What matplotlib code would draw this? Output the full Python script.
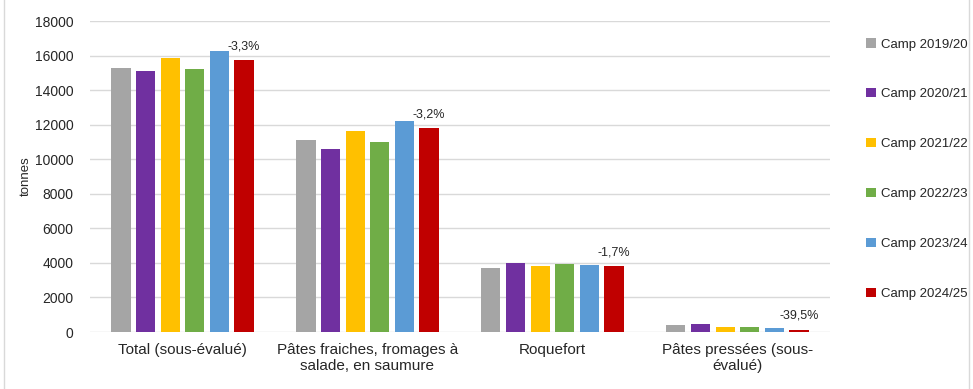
import matplotlib
matplotlib.use("Agg")
import matplotlib.pyplot as plt
from matplotlib.patches import Rectangle
import numpy as np

plt.rcParams["font.family"] = ["Liberation Sans", "DejaVu Sans"]

categories = [
    "Total (sous-évalué)",
    "Pâtes fraiches, fromages à\nsalade, en saumure",
    "Roquefort",
    "Pâtes pressées (sous-\névalué)",
]
campaigns = ["Camp 2019/20", "Camp 2020/21", "Camp 2021/22",
             "Camp 2022/23", "Camp 2023/24", "Camp 2024/25"]
colors = ["#A5A5A5", "#7030A0", "#FFC000", "#70AD47", "#5B9BD5", "#C00000"]

camp_2019 = [15280, 11110, 3700, 390]
camp_2020 = [15100, 10590, 3990, 460]
camp_2021 = [15860, 11630, 3820, 310]
camp_2022 = [15220, 11000, 3930, 270]
camp_2023 = [16260, 12210, 3880, 215]
camp_2024 = [15740, 11800, 3810, 130]
series = [camp_2019, camp_2020, camp_2021, camp_2022, camp_2023, camp_2024]

change_labels = ["-3,3%", "-3,2%", "-1,7%", "-39,5%"]

fig = plt.figure(figsize=(9.73, 3.89), dpi=100)
ax = fig.add_axes([0.0925, 0.1465, 0.7605, 0.7995])

x = np.arange(len(categories))
step = 0.133
width = 0.103
for i, (vals, name, c) in enumerate(zip(series, campaigns, colors)):
    pos = x + (i - 2.5) * step
    ax.bar(pos, vals, width=width, color=c, label=name, zorder=3)

# variation labels above the last campaign
last_pos = x + 2.5 * step
for xp, v, txt in zip(last_pos, camp_2024, change_labels):
    ax.annotate(txt, (xp, v), xytext=(0, 10), textcoords="offset points",
                ha="center", va="center", fontsize=9, color="#262626")

ax.set_xlim(-0.5, len(categories) - 0.5)
ax.set_ylim(0, 18000)
ax.set_yticks(np.arange(0, 18001, 2000))
ax.yaxis.grid(True, color="#D9D9D9", linewidth=1, zorder=0)
ax.set_axisbelow(True)
for s in ax.spines.values():
    s.set_visible(False)
ax.tick_params(axis="both", length=0)
ax.tick_params(axis="y", labelsize=10, pad=12, labelcolor="#262626")
ax.set_xticks(x)
ax.set_xticklabels(categories, fontsize=11, color="#262626", linespacing=1.2)
ax.tick_params(axis="x", pad=8)
ax.set_ylabel("tonnes", fontsize=9.5, color="#262626", labelpad=2)

leg = fig.legend(loc="upper left", bbox_to_anchor=(0.885, 0.915), frameon=False,
                 fontsize=9.5, handlelength=0.7, handleheight=0.7,
                 handletextpad=0.4, labelspacing=2.85, borderaxespad=0)
for t in leg.get_texts():
    t.set_color("#262626")

fig.patches.append(Rectangle((0.004, -0.01), 0.992, 1.02, transform=fig.transFigure,
                             fill=False, edgecolor="#D9D9D9", linewidth=1))

fig.savefig("out.png", dpi=100)
